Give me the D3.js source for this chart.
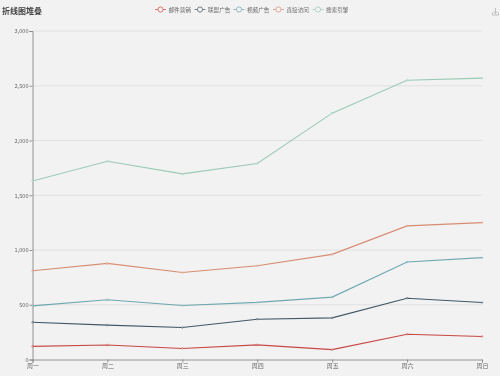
<!DOCTYPE html>
<html>
<head>
<meta charset="utf-8">
<script src="https://cdn.jsdelivr.net/npm/d3@7"></script>
<style>
  html, body { margin: 0; padding: 0; background: #f2f2f2; overflow: hidden; }
  text { font-family: "Noto Sans CJK SC", "Liberation Sans", sans-serif; }
  /* the reference is a soft, downscaled screenshot */
  svg { filter: blur(0.35px); }
</style>
</head>
<body>
<div id="chart"></div>
<script>
const days = ['周一', '周二', '周三', '周四', '周五', '周六', '周日'];
const seriesNames = ['邮件营销', '联盟广告', '视频广告', '直接访问', '搜索引擎'];
const colors = ['#c23531', '#2f4554', '#61a0a8', '#d48265', '#91c7ae'];
const yTicks = [0, 500, 1000, 1500, 2000, 2500, 3000];

// raw values per series, stacked below
const email = [120, 132, 101, 134, 90, 230, 210];
const union = [220, 182, 191, 234, 290, 330, 310];
const video = [150, 232, 201, 154, 190, 330, 410];
const direct = [320, 332, 301, 334, 390, 330, 320];
const search = [820, 932, 901, 934, 1290, 1330, 1320];
const values = [email, union, video, direct, search];

const width = 500, height = 376;
const margin = { top: 31, right: 18, bottom: 16.5, left: 32.5 };

const svg = d3.select('#chart').append('svg')
  .attr('width', width)
  .attr('height', height)
  .style('display', 'block');

const table = days.map((d, i) => {
  const row = { day: d };
  seriesNames.forEach((s, j) => { row[s] = values[j][i]; });
  return row;
});
const stacked = d3.stack().keys(seriesNames)(table);

const x = d3.scalePoint().domain(days).range([margin.left, width - margin.right]);
const y = d3.scaleLinear().domain([0, 3000]).range([height - margin.bottom, margin.top]);

// Grid
svg.append('g').selectAll('line')
  .data(yTicks.slice(1))
  .enter().append('line')
  .attr('x1', margin.left)
  .attr('x2', width - margin.right)
  .attr('y1', d => y(d))
  .attr('y2', d => y(d))
  .attr('stroke', '#dcdcdc')
  .attr('stroke-width', 0.8);

// Axes
const xAxis = svg.append('g')
  .attr('transform', `translate(0,${height - margin.bottom})`)
  .call(d3.axisBottom(x).tickSize(3).tickPadding(1));
xAxis.selectAll('text').style('fill', '#666').style('font-size', '6px');
xAxis.selectAll('line, path').style('stroke', '#888').style('stroke-width', 0.9);

const yAxis = svg.append('g')
  .attr('transform', `translate(${margin.left},0)`)
  .call(d3.axisLeft(y).tickValues(yTicks).tickSize(3).tickPadding(1).tickFormat(d3.format(',')));
yAxis.selectAll('text').style('fill', '#666').style('font-size', '5.6px');
yAxis.selectAll('line, path').style('stroke', '#888').style('stroke-width', 0.9);

// Lines
const line = d3.line().x(d => x(d.data.day)).y(d => y(d[1]));
stacked.forEach((layer, i) => {
  svg.append('path')
    .datum(layer)
    .attr('d', line)
    .attr('fill', 'none')
    .attr('stroke', colors[i])
    .attr('stroke-width', 1.1)
    .attr('stroke-opacity', 0.9);

  svg.append('g').selectAll('circle')
    .data(layer)
    .enter().append('circle')
    .attr('cx', d => x(d.data.day))
    .attr('cy', d => y(d[1]))
    .attr('r', 0.8)
    .attr('fill', '#f2f2f2')
    .attr('stroke', colors[i])
    .attr('stroke-width', 0.5);
});

// Title
svg.append('text')
  .attr('x', 2)
  .attr('y', 13.5)
  .style('font-size', '8px')
  .style('font-weight', 'bold')
  .style('fill', '#444')
  .text('折线图堆叠');

// Legend
const legendX = [155, 194.5, 233.5, 273, 312.5];
const legend = svg.append('g').selectAll('g')
  .data(seriesNames)
  .enter().append('g')
  .attr('transform', (d, i) => `translate(${legendX[i]},9.5)`);
legend.append('line')
  .attr('x1', 0).attr('x2', 11)
  .attr('stroke', (d, i) => colors[i])
  .attr('stroke-width', 0.8)
  .attr('stroke-opacity', 0.8);
legend.append('circle')
  .attr('cx', 5.5).attr('r', 2.6)
  .attr('fill', '#f2f2f2')
  .attr('stroke', (d, i) => colors[i])
  .attr('stroke-width', 0.8)
  .attr('stroke-opacity', 0.8);
legend.append('text')
  .attr('x', 13.5).attr('y', 2.2)
  .style('font-size', '5.6px')
  .style('fill', '#666')
  .text(d => d);

// Save icon
const icon = svg.append('g')
  .attr('transform', 'translate(495.5,11)')
  .attr('fill', 'none')
  .attr('stroke', '#aaa')
  .attr('stroke-width', 0.7);
icon.append('path').attr('d', 'M-3,1.5 V4 H3 V1.5');
icon.append('path').attr('d', 'M0,-3 V2.5 M-2,0.5 L0,2.5 L2,0.5');
</script>
</body>
</html>
